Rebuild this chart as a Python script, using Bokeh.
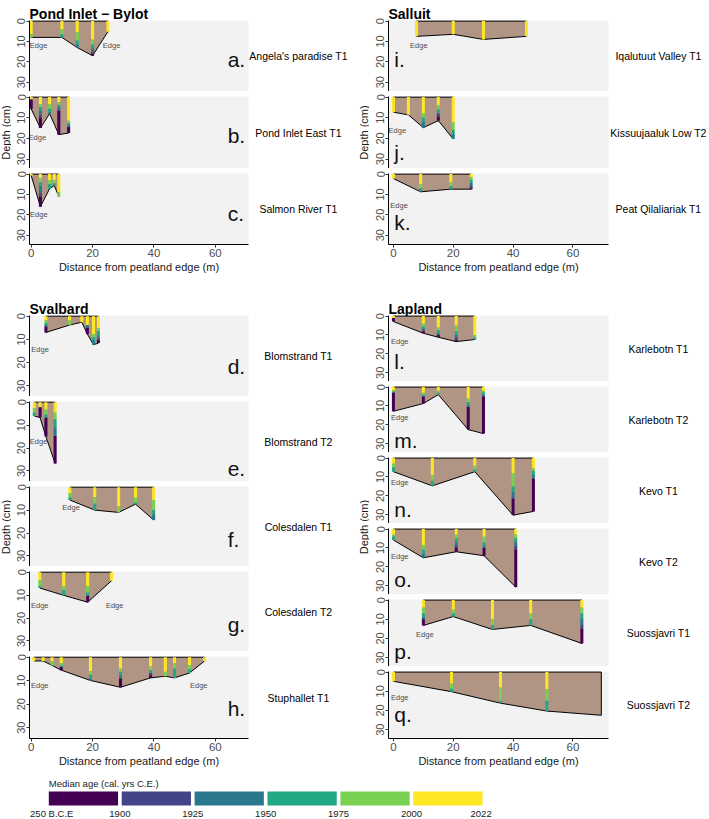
import math

from bokeh.core.properties import value
from bokeh.embed import file_html
from bokeh.layouts import column, row
from bokeh.models import BoxAnnotation, ColumnDataSource, FixedTicker, Range1d
from bokeh.plotting import figure
from bokeh.resources import INLINE

# ---------------------------------------------------------------------------
# Age classes, youngest first (layer colours down each core)
age_colors = ["#FDE725", "#7AD151", "#22A884", "#2A788E", "#414487", "#440154"]
# Legend order (oldest first) and the class boundaries written under it
legend_colors = ["#440154", "#414487", "#2A788E", "#22A884", "#7AD151", "#FDE725"]
legend_labels = ["250 B.C.E", "1900", "1925", "1950", "1975", "2000", "2022"]

depth_ticks = [0, 10, 20, 30]
dist_ticks = [0, 20, 40, 60]

# ---------------------------------------------------------------------------
# Transects: core distance (m), peat depth at each core (cm) and, per core,
# the depth (cm) at which each age class ends, youngest class first.

# Pond Inlet - Bylot
a_name = "Angela's paradise T1"
a_dist = [0, 10, 15, 20, 25]
a_depth = [8, 8, 13, 17, 5.2]
a_layers = [[6.5, 8], [4, 6.5, 8], [5.5, 9.5, 11.5, 13], [9, 11.5, 13.5, 15, 16, 17], [5.2]]

b_name = "Pond Inlet East T1"
b_dist = [0, 3, 6, 9, 12.2]
b_depth = [5.7, 15, 8, 18.2, 17.4]
b_layers = [[1.1, 1.1, 1.1, 1.1, 1.1, 5.7], [3.5, 4.8, 6.5, 8.5, 10, 15], [3.5, 5.6, 7.2, 8],
            [2.4, 3.7, 4.8, 6.5, 6.5, 18.2], [11.4, 12.5, 13.5, 14.5, 14.5, 17.4]]

c_name = "Salmon River T1"
c_dist = [0, 3, 6, 7.5, 9]
c_depth = [0.7, 16, 7.2, 5.6, 11]
c_layers = [[0.7], [2, 4, 6, 9, 11, 16], [3, 5, 7.2], [3, 4.5, 5.6], [9, 11]]

# Svalbard
d_name = "Blomstrand T1"
d_dist = [4.8, 12.5, 16.5, 18.3, 20.3, 21.9]
d_depth = [7, 3.8, 2.6, 7.7, 12.3, 11.6]
d_layers = [[1.9, 3, 3.8, 4.6, 4.6, 7], [1.9, 3.8], [2.6], [3.8, 3.8, 3.8, 5, 5, 7.7],
            [7.7, 9.1, 10.4, 12.3], [5.1, 6.5, 8.7, 10.1, 10.1, 11.6]]

e_name = "Blomstrand T2"
e_dist = [1, 2.9, 4.8, 7.8]
e_depth = [6, 6.7, 15, 26.7]
e_layers = [[2.8, 4.6, 6], [2.2, 2.2, 2.2, 2.2, 2.2, 6.7], [3.2, 5.4, 6.8, 6.8, 6.8, 15],
            [4.6, 7.5, 11.1, 14.7, 14.7, 26.7]]

f_name = "Colesdalen T1"
f_dist = [12.6, 20.7, 28.5, 34, 39.9]
f_depth = [5.6, 10, 11, 7.4, 14.3]
f_layers = [[2.5, 4.5, 5.6], [4.3, 7.2, 10], [8.3, 11], [4.6, 6.8, 7.4], [5.6, 10, 12, 14.3]]

g_name = "Colesdalen T2"
g_dist = [2.8, 10.6, 18.4, 26.2]
g_depth = [6.9, 10.1, 13.1, 3.7]
g_layers = [[3.4, 6, 6.9], [6, 7.8, 10.1], [6, 8.9, 10.3, 10.3, 10.3, 13.1], [3.7]]

h_name = "Stuphallet T1"
h_dist = [0.85, 3.9, 6.8, 9.8, 19.3, 29.1, 38.9, 43.7, 46.7, 51.6, 56.5]
h_depth = [1.6, 1.6, 3.5, 5.5, 9.9, 12.8, 8.8, 8.1, 8.8, 6.7, 1.6]
h_layers = [[1.6], [1.6], [1.6, 3.5], [2.5, 3.5, 4.2, 4.2, 4.2, 5.5], [6, 7.5, 9, 9.9],
            [4.8, 6.2, 7.7, 9.1, 9.1, 12.8], [4, 5.5, 6.7, 6.7, 7.7, 8.8], [6.2, 8.1],
            [2.6, 4.8, 8.8], [3.3, 5.2, 6.7], [1.6]]

# Salluit
i_name = "Iqalutuut Valley T1"
i_dist = [7.7, 20, 30.1, 44.5]
i_depth = [7.5, 6.5, 9, 7.5]
i_layers = [[7.5], [6.5], [9], [7.5]]

j_name = "Kissuujaaluk Low T2"
j_dist = [0, 5, 10, 15, 20]
j_depth = [7.3, 8.6, 14.8, 11.4, 20.3]
j_layers = [[7.3], [8.6], [8, 10, 12, 14.8], [4, 6, 8, 8, 9.5, 11.4], [12, 16, 18, 20.3]]

k_name = "Peat Qilaliariak T1"
k_dist = [0, 9.1, 19.2, 26]
k_depth = [2.2, 8.7, 7.4, 7.4]
k_layers = [[2.2], [5, 7, 8, 8.7], [4, 6, 7.4], [1.5, 3, 4.5, 6, 7, 7.4]]

# Lapland
l_name = "Karlebotn T1"
l_dist = [0, 10, 15, 21, 27.2]
l_depth = [2.9, 9.1, 11.2, 13.5, 12.4]
l_layers = [[1, 1, 1, 1, 1, 2.9], [4, 5.5, 6.5, 7.5, 8, 9.1], [6, 7.5, 9, 10, 10, 11.2],
            [5, 8, 10, 11.5, 12.5, 13.5], [10, 11.5, 12.4]]

m_name = "Karlebotn T2"
m_dist = [0, 10, 15, 25, 30.1]
m_depth = [12.8, 8.7, 4, 22.5, 24.6]
m_layers = [[1.5, 2.5, 3, 3, 3, 12.8], [3, 4, 5, 5, 5, 8.7], [2, 3, 4],
            [6, 8, 9.5, 10.5, 10.5, 22.5], [2, 3, 4, 5, 5, 24.6]]

n_name = "Kevo T1"
n_dist = [0, 13, 27.2, 40, 46.8]
n_depth = [7.2, 14.7, 7.2, 30.2, 28.2]
n_layers = [[3, 5, 7.2], [9, 12, 14.7], [4, 6, 7.2], [8, 15, 18, 20.7, 21.7, 30.2],
            [5.5, 7, 9, 11, 11, 28.2]]

o_name = "Kevo T2"
o_dist = [0, 10, 21, 30.3, 40.9]
o_depth = [5.8, 15.2, 12, 14.1, 30.7]
o_layers = [[3, 4, 5.8], [8.5, 11, 13, 15.2], [3, 5, 7, 9, 10, 12], [4, 7, 9, 10, 10, 14.1],
            [3, 5, 7, 9, 11, 30.7]]

p_name = "Suossjavri T1"
p_dist = [10, 20, 33.1, 45.9, 63]
p_depth = [13.2, 8.6, 15.3, 13.2, 22.6]
p_layers = [[4, 7, 9, 10, 10, 13.2], [5, 7, 8.6], [10, 13, 15.3], [7, 10, 13.2],
            [4, 7, 10, 13, 15, 22.6]]

q_name = "Suossjavri T2"
q_dist = [0, 19.4, 35.8, 51.3, 69.5]
q_depth = [4.8, 10.2, 16.2, 20.3, 22.5]
q_layers = [[4.8], [6, 8.5, 10.2], [8, 15, 16.2], [9, 15, 20.3], []]

TRANSECTS = {
    "a": (a_name, a_dist, a_depth, a_layers), "b": (b_name, b_dist, b_depth, b_layers),
    "c": (c_name, c_dist, c_depth, c_layers), "d": (d_name, d_dist, d_depth, d_layers),
    "e": (e_name, e_dist, e_depth, e_layers), "f": (f_name, f_dist, f_depth, f_layers),
    "g": (g_name, g_dist, g_depth, g_layers), "h": (h_name, h_dist, h_depth, h_layers),
    "i": (i_name, i_dist, i_depth, i_layers), "j": (j_name, j_dist, j_depth, j_layers),
    "k": (k_name, k_dist, k_depth, k_layers), "l": (l_name, l_dist, l_depth, l_layers),
    "m": (m_name, m_dist, m_depth, m_layers), "n": (n_name, n_dist, n_depth, n_layers),
    "o": (o_name, o_dist, o_depth, o_layers), "p": (p_name, p_dist, p_depth, p_layers),
    "q": (q_name, q_dist, q_depth, q_layers),
}

# ---------------------------------------------------------------------------
# Annotation placement (distance, depth) of the "Edge" notes and panel letters
EDGE_POS = {
    "a": [(2.4, 11.9), (26.2, 12)], "b": [(2, 19.5)], "c": [(2.5, 19.7)],
    "d": [(2.9, 14.2)], "e": [(2.4, 17.3)], "f": [(13, 8.8)],
    "g": [(2.8, 14.4), (27.2, 14.4)], "h": [(2.8, 12.2), (54.6, 12.2)],
    "i": [(8.5, 11.9)], "j": [(1.3, 16)], "k": [(1.9, 15.3)],
    "l": [(2.1, 13.5)], "m": [(2.1, 16.3)], "n": [(2.1, 12.9)],
    "o": [(2.1, 14.3)], "p": [(10.5, 17.8)], "q": [(2.1, 13.2)],
}
LETTER_DEPTH = {"a": 19, "b": 18.7, "c": 19.5, "d": 21.5, "e": 29, "f": 22.7, "g": 22.7,
                "h": 21.9, "i": 19, "j": 26.8, "k": 23.7, "l": 24, "m": 28.4, "n": 27,
                "o": 26.5, "p": 27, "q": 22}

FONT = "Liberation Sans"
PANEL_BG = "#F2F2F2"
PEAT = "#B09484"
Y_RANGE = (34.6, -0.3)
AXIS_H = 18   # room under the last panel for ticks and tick labels

# Column geometry: panel data extent and pixel width, left border for the depth
# axis, space for the transect names, "Depth (cm)" strip, panel letter placing
SIDES = {
    "left": dict(xs=-0.55, xe=70.8, gray_w=219, ml=18, mr=102, lab_w=11, lab_x=5.5,
                 letter_x=64.0),
    "right": dict(xs=-1.65, xe=71.9, gray_w=220, ml=19, mr=101, lab_w=19, lab_x=13.3,
                  letter_x=0.3),
}


def x_extent(s):
    ppu = s["gray_w"] / (s["xe"] - s["xs"])
    return ppu, s["xe"] + s["mr"] / ppu


def blank_fig(width, height):
    f = figure(width=width, height=height, x_range=Range1d(0, width),
               y_range=Range1d(0, height), toolbar_location=None, output_backend="svg",
               x_axis_location=None, y_axis_location=None, min_border=0,
               outline_line_color=None, background_fill_color="white",
               border_fill_color="white")
    f.grid.visible = False
    return f


def make_panel(key, side, head, frame_h, bottom, title=None):
    """One transect; `head` pixels above the panel belong to the frame (group title)."""
    s = SIDES[side]
    name, dist, depth, layers = TRANSECTS[key]
    ppu_x, x_end = x_extent(s)
    ppu_y = frame_h / (Y_RANGE[0] - Y_RANGE[1])
    y_top = Y_RANGE[1] - head / ppu_y
    p = figure(width=s["ml"] + s["gray_w"] + s["mr"], height=head + frame_h + bottom,
               x_range=Range1d(s["xs"], x_end), y_range=Range1d(Y_RANGE[0], y_top),
               toolbar_location=None, output_backend="svg",
               x_axis_location="below" if bottom else None,
               min_border_left=s["ml"], min_border_right=0,
               min_border_top=0, min_border_bottom=bottom,
               background_fill_color="white", border_fill_color="white",
               outline_line_color=None)
    p.grid.visible = False
    p.add_layout(BoxAnnotation(left=s["xs"], right=s["xe"], top=Y_RANGE[1],
                               fill_color=PANEL_BG, fill_alpha=1, line_color=None,
                               level="underlay"))

    # group title above the first panel
    if title:
        p.text(x=[s["xs"]], y=[Y_RANGE[1] - 7 / ppu_y], text=[title],
               text_font=value(FONT), text_font_size="14px", text_font_style="bold",
               text_color="black", text_align="left", text_baseline="alphabetic")

    # peat body: surface line, then the base joining the bottom of each core
    px = [dist[0]] + list(dist) + [dist[-1]]
    py = [0] + list(depth) + [0]
    p.patch(px, py, fill_color=PEAT, line_color="black", line_width=1)

    # dated cores as stacked age-class segments
    bx, bb, bt, bc = [], [], [], []
    for x, bounds in zip(dist, layers):
        prev = 0
        for cls, bot in enumerate(bounds):
            if bot > prev:
                bx.append(x)
                bb.append(prev)
                bt.append(bot)
                bc.append(age_colors[cls])
            prev = bot
    src = ColumnDataSource(dict(x=bx, bottom=bb, top=bt, color=bc))
    p.vbar(x="x", bottom="bottom", top="top", width=1.0, fill_color="color",
           line_color=None, source=src)

    ex = [e[0] for e in EDGE_POS[key]]
    ey = [e[1] for e in EDGE_POS[key]]
    p.text(x=ex, y=ey, text=["Edge"] * len(ex), text_font=value(FONT),
           text_font_size="7.5px", text_color="#4D4D4D", text_align="center",
           text_baseline="middle")

    p.text(x=[s["letter_x"]], y=[LETTER_DEPTH[key]], text=[key + "."],
           text_font=value(FONT), text_font_size="21px", text_color="#111111",
           text_align="left", text_baseline="middle")

    # transect name, centred in the space right of the panel
    p.text(x=[s["xe"] + 50 / ppu_x], y=[(Y_RANGE[0] + Y_RANGE[1]) / 2], text=[name],
           text_font=value(FONT), text_font_size="10.5px", text_color="black",
           text_align="center", text_baseline="middle")

    ya = p.yaxis[0]
    ya.ticker = FixedTicker(ticks=depth_ticks)
    ya.bounds = (Y_RANGE[1], Y_RANGE[0])
    ya.major_label_orientation = "vertical"
    ya.axis_line_color = "black"
    ya.major_tick_line_color = "#333333"
    ya.major_tick_out = 3
    ya.major_tick_in = 0
    ya.minor_tick_line_color = None
    ya.major_label_text_color = "#4D4D4D"
    ya.major_label_text_font = FONT
    ya.major_label_text_font_size = "11px"
    ya.major_label_standoff = 1

    if bottom:
        xa = p.xaxis[0]
        xa.ticker = FixedTicker(ticks=dist_ticks)
        xa.bounds = (s["xs"], s["xe"])
        xa.axis_line_color = "black"
        xa.major_tick_line_color = "#333333"
        xa.major_tick_out = 3
        xa.major_tick_in = 0
        xa.minor_tick_line_color = None
        xa.major_label_text_color = "#4D4D4D"
        xa.major_label_text_font = FONT
        xa.major_label_text_font_size = "11.5px"
        xa.major_label_standoff = 1
    return p


def make_group(side, title, keys, frame_hs, head, group_h, xlab_y):
    s = SIDES[side]
    figs = []
    for n, (key, fh) in enumerate(zip(keys, frame_hs)):
        figs.append(make_panel(key, side, head if n == 0 else 5, fh,
                               AXIS_H if n == len(keys) - 1 else 0,
                               title if n == 0 else None))

    # x-axis title under the last panel, centred on the panel area
    used = sum(f.height for f in figs)
    ppu_x, x_end = x_extent(s)
    xlab = figure(width=s["ml"] + s["gray_w"] + s["mr"], height=group_h - used,
                  x_range=Range1d(s["xs"], x_end), y_range=Range1d(0, group_h - used),
                  toolbar_location=None, output_backend="svg",
                  x_axis_location=None, y_axis_location=None,
                  min_border_left=s["ml"], min_border_right=0, min_border_top=0,
                  min_border_bottom=0, outline_line_color=None,
                  background_fill_color="white", border_fill_color="white")
    xlab.grid.visible = False
    xlab.text(x=[(s["xs"] + s["xe"]) / 2], y=[xlab_y],
              text=["Distance from peatland edge (m)"], text_font=value(FONT),
              text_font_size="11px", text_color="#1A1A1A", text_align="center",
              text_baseline="middle")

    span = sum(frame_hs) + 5 * (len(keys) - 1)
    center = head + span / 2
    lab = blank_fig(s["lab_w"], group_h)
    lab.text(x=[s["lab_x"]], y=[group_h - center], text=["Depth (cm)"], angle=math.pi / 2,
             text_font=value(FONT), text_font_size="11px", text_color="#1A1A1A",
             text_align="center", text_baseline="middle")
    return row(lab, column(*figs, xlab))


g1_left = make_group("left", "Pond Inlet \u2212 Bylot", ["a", "b", "c"], [71, 72, 71],
                     20, 285, 19)
g1_right = make_group("right", "Salluit", ["i", "j", "k"], [71, 72, 71], 20, 285, 19)
g2_left = make_group("left", "Svalbard", ["d", "e", "f", "g", "h"], [81, 80, 80, 80, 82],
                     30, 485, 10)
g2_right = make_group("right", "Lapland", ["l", "m", "n", "o", "p", "q"],
                      [66, 66, 66, 66, 67, 67], 30, 485, 10)

# ---------------------------------------------------------------------------
# Age legend: one box per class, class boundaries written between the boxes
PITCH = 72.9
leg = figure(width=709, height=49, x_range=Range1d(-48.3 / PITCH, (709 - 48.3) / PITCH),
             y_range=Range1d(0, 49), toolbar_location=None, output_backend="svg",
             x_axis_location=None, y_axis_location=None, min_border=0,
             outline_line_color=None, background_fill_color="white",
             border_fill_color="white")
leg.grid.visible = False
n_cls = len(legend_colors)
leg.quad(left=list(range(n_cls)), right=[i + 0.95 for i in range(n_cls)],
         bottom=[14] * n_cls, top=[28] * n_cls, fill_color=legend_colors, line_color=None)
leg.text(x=[0], y=[36], text=["Median age (cal. yrs C.E.)"], text_font=value(FONT),
         text_font_size="9.5px", text_color="#1A1A1A", text_align="left",
         text_baseline="middle")
tick_x = [0.04] + [i - 0.025 for i in range(1, n_cls)] + [n_cls - 0.07]
leg.text(x=tick_x, y=[6] * len(tick_x), text=legend_labels, text_font=value(FONT),
         text_font_size="9.5px", text_color="#1A1A1A", text_align="center",
         text_baseline="middle")

page = column(row(g1_left, g1_right), row(g2_left, g2_right), leg)

with open("out.html", "w") as fh:
    fh.write(file_html(page, INLINE, title="Peat age transects"))
